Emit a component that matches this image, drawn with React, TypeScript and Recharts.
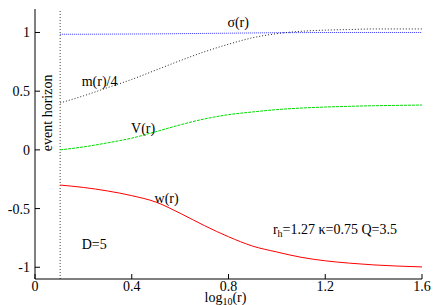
import { LineChart, Line, XAxis, YAxis, ReferenceLine, ReferenceDot } from "recharts";

// log10(r) samples, starting at the horizon r_h = 1.27
const logR = [0.104, 0.2, 0.3, 0.4, 0.5, 0.6, 0.7, 0.8, 0.9, 1.0, 1.1, 1.2, 1.3, 1.4, 1.5, 1.6];
const sigma = [0.985, 0.985, 0.986, 0.987, 0.988, 0.99, 0.992, 0.994, 0.996, 0.998, 0.999, 1.0, 1.0, 1.0, 1.0, 1.0];
const mQuarter = [0.4, 0.46, 0.53, 0.6, 0.68, 0.76, 0.835, 0.9, 0.955, 0.99, 1.01, 1.02, 1.025, 1.03, 1.03, 1.03];
const potV = [0, 0.025, 0.06, 0.1, 0.155, 0.213, 0.263, 0.3, 0.323, 0.343, 0.356, 0.365, 0.371, 0.376, 0.379, 0.382];
const gaugeW = [-0.3, -0.32, -0.35, -0.39, -0.445, -0.54, -0.645, -0.74, -0.82, -0.87, -0.915, -0.945, -0.965, -0.98, -0.99, -0.997];

const xTicks = [0, 0.4, 0.8, 1.2, 1.6];
const yTicks = [-1, -0.5, 0, 0.5, 1];
const horizon = 0.104;

const data = logR.map((x, i) => ({ x, sigma: sigma[i], m: mQuarter[i], V: potV[i], w: gaugeW[i] }));

const FONT = "'Liberation Serif', 'DejaVu Serif', serif";
const TL = 5; // inward tick length

const BottomTick = ({ x, y, payload }: any) => (
  <g>
    <line x1={x} x2={x} y1={y} y2={y - TL} stroke="#000" />
    <text x={x} y={y + 12} textAnchor="middle" fontFamily={FONT} fontSize={14} fill="#000">{String(payload.value)}</text>
  </g>
);
const TopTick = ({ x, y }: any) => <line x1={x} x2={x} y1={y} y2={y + TL} stroke="#000" />;
const LeftTick = ({ x, y, payload }: any) => (
  <g>
    <line x1={x} x2={x + TL} y1={y} y2={y} stroke="#000" />
    <text x={x - 5} y={y + 5} textAnchor="end" fontFamily={FONT} fontSize={14} fill="#000">{String(payload.value)}</text>
  </g>
);
const RightTick = ({ x, y }: any) => <line x1={x} x2={x - TL} y1={y} y2={y} stroke="#000" />;

const txt = (s: string, rotate = false) => (p: any) => (
  <text
    x={p.cx}
    y={p.cy}
    textAnchor="middle"
    dominantBaseline="central"
    fontFamily={FONT}
    fontSize={14}
    fill="#000"
    transform={rotate ? `rotate(-90 ${p.cx} ${p.cy})` : undefined}
  >
    {s}
  </text>
);

const paramText = (p: any) => (
  <text x={p.cx} y={p.cy} textAnchor="middle" dominantBaseline="central" fontFamily={FONT} fontSize={14} fill="#000">
    r<tspan fontSize={10} dy={4}>h</tspan>
    <tspan dy={-4}>=1.27 κ=0.75 Q=3.5</tspan>
  </text>
);

const xLabel = ({ viewBox }: any) => (
  <text x={viewBox.x + viewBox.width / 2 - 3} y={viewBox.y + 23} textAnchor="middle" fontFamily={FONT} fontSize={14} fill="#000">
    log<tspan fontSize={10} dy={3}>10</tspan>
    <tspan dy={-3}>(r)</tspan>
  </text>
);

export default function App() {
  return (
    <div style={{ position: "absolute", left: 0, top: 0, background: "#fff" }}>
      <LineChart width={436} height={305} data={data} margin={{ top: 9, right: 14, bottom: 0, left: 0 }}>
        <XAxis
          dataKey="x"
          type="number"
          domain={[0, 1.6]}
          ticks={xTicks}
          height={26}
          tickSize={0}
          tickMargin={0}
          tickLine={false}
          tick={BottomTick}
          axisLine={{ stroke: "#000" }}
          label={{ content: xLabel }}
        />
        <XAxis
          xAxisId="top"
          orientation="top"
          dataKey="x"
          type="number"
          domain={[0, 1.6]}
          ticks={xTicks}
          height={0}
          tickSize={0}
          tickMargin={0}
          tickLine={false}
          tick={TopTick}
          axisLine={{ stroke: "#000" }}
        />
        <YAxis
          type="number"
          domain={[-1.1, 1.2]}
          ticks={yTicks}
          width={35}
          tickSize={0}
          tickMargin={0}
          tickLine={false}
          tick={LeftTick}
          axisLine={{ stroke: "#000" }}
        />
        <YAxis
          yAxisId="right"
          orientation="right"
          type="number"
          domain={[-1.1, 1.2]}
          ticks={yTicks}
          width={0}
          tickSize={0}
          tickMargin={0}
          tickLine={false}
          tick={RightTick}
          axisLine={{ stroke: "#000" }}
        />
        <ReferenceLine x={horizon} stroke="#444" strokeDasharray="1 2" />
        <Line dataKey="sigma" type="monotone" stroke="#3333ff" strokeDasharray="1 1" dot={false} isAnimationActive={false} />
        <Line dataKey="m" type="monotone" stroke="#222" strokeDasharray="1 2" dot={false} isAnimationActive={false} />
        <Line dataKey="V" type="monotone" stroke="#00dd00" strokeDasharray="3 1" dot={false} isAnimationActive={false} />
        <Line dataKey="w" type="monotone" stroke="#ff0000" dot={false} isAnimationActive={false} />
        <ReferenceDot x={0.84} y={1.088} r={0} shape={txt("σ(r)")} />
        <ReferenceDot x={0.267} y={0.584} r={0} shape={txt("m(r)/4")} />
        <ReferenceDot x={0.447} y={0.185} r={0} shape={txt("V(r)")} />
        <ReferenceDot x={0.544} y={-0.413} r={0} shape={txt("w(r)")} />
        <ReferenceDot x={0.245} y={-0.806} r={0} shape={txt("D=5")} />
        <ReferenceDot x={1.24} y={-0.675} r={0} shape={paramText} />
        <ReferenceDot x={0.05} y={0.315} r={0} shape={txt("event horizon", true)} />
      </LineChart>
    </div>
  );
}
